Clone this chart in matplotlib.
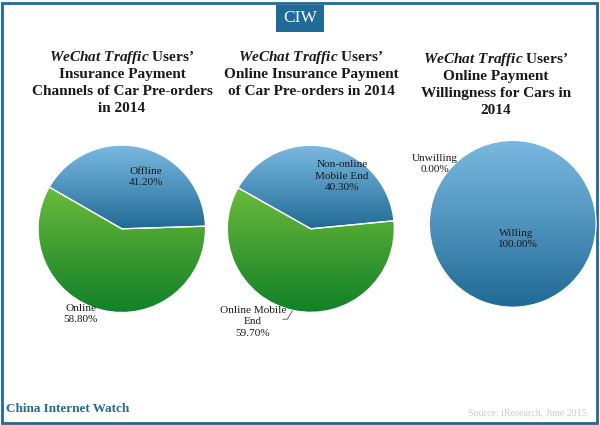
import matplotlib
matplotlib.use('Agg')
import matplotlib.pyplot as plt
from matplotlib.colors import LinearSegmentedColormap
from matplotlib.patches import Rectangle
import numpy as np

W, H = 600, 425

plt.rcParams['font.family'] = ['Liberation Serif', 'DejaVu Serif']
plt.rcParams['mathtext.fontset'] = 'custom'
plt.rcParams['mathtext.it'] = 'Liberation Serif:italic:bold'
plt.rcParams['mathtext.rm'] = 'Liberation Serif:bold'

BLUE = LinearSegmentedColormap.from_list('b', ['#1f6a95', '#4f93bd', '#7ab9e0'])
GREEN = LinearSegmentedColormap.from_list('g', ['#11822a', '#3f9c30', '#6abd3c'])
FRAME = '#1f6a97'
HEAD = r"$\mathit{WeChat\ Traffic}$ Users’"

panels = [
    dict(title=[HEAD, "Insurance Payment", "Channels of Car Pre-orders", "in 2014"],
         title_xy=(122, 57.5), center=(121.8, 228.8), radius=83.7, start=1.8,
         values=[41.2, 58.8], cmaps=[BLUE, GREEN],
         labels=[("Offline\n41.20%", 146, 177), ("Online\n58.80%", 81, 314)]),
    dict(title=[HEAD, "Online Insurance Payment", "of Car Pre-orders in 2014"],
         title_xy=(311, 57.5), center=(310.8, 228.8), radius=83.5, start=5.5,
         values=[40.3, 59.7], cmaps=[BLUE, GREEN],
         labels=[("Non-online\nMobile End\n40.30%", 342, 176),
                 ("Online Mobile\nEnd\n59.70%", 253, 322)]),
    dict(title=[HEAD, "Online Payment", "Willingness for Cars in", "2014"],
         title_xy=(496, 59.5), center=(512.7, 223.8), radius=83.4, start=90,
         values=[100.0, 0.0], cmaps=[BLUE, BLUE],
         labels=[("Willing\n100.00%", 516.5, 239), ("Unwilling\n0.00%", 435, 164)]),
]


def draw_pie(fig, panel):
    cx, cy = panel['center']
    r = panel['radius']
    ax = fig.add_axes([(cx - r) / W, 1 - (cy + r) / H, 2 * r / W, 2 * r / H])
    wedges, _ = ax.pie(panel['values'], startangle=panel['start'], radius=1,
                       wedgeprops=dict(edgecolor='white', linewidth=0.9))
    for wedge, cmap, value in zip(wedges, panel['cmaps'], panel['values']):
        if value == 0:
            wedge.set_visible(False)
            continue
        # fill runs from the top to the bottom of each slice
        box = wedge.get_path().get_extents()
        grad = np.linspace(1, 0, 256).reshape(-1, 1)
        im = ax.imshow(grad, cmap=cmap, aspect='auto', zorder=1,
                       extent=(-1, 1, box.y0, box.y1))
        im.set_clip_path(wedge)
        wedge.set_facecolor('none')
        wedge.set_zorder(2)
    ax.set_xlim(-1, 1)
    ax.set_ylim(-1, 1)
    ax.axis('off')


fig = plt.figure(figsize=(W / 100, H / 100), dpi=100, facecolor='#fafafa')

# page background and frame sit under the pies
bg = fig.add_axes([0, 0, 1, 1], zorder=0)
bg.set_xlim(0, W)
bg.set_ylim(H, 0)
bg.axis('off')
bg.add_patch(Rectangle((2, 3), 595, 420, facecolor='white', edgecolor=FRAME, linewidth=2))
bg.add_patch(Rectangle((276, 5), 48, 27, facecolor=FRAME, edgecolor='none'))
bg.text(300, 18, 'CIW', color='white', fontsize=12.5, ha='center', va='center')

for panel in panels:
    draw_pie(fig, panel)

top = fig.add_axes([0, 0, 1, 1], zorder=5)
top.set_xlim(0, W)
top.set_ylim(H, 0)
top.axis('off')
top.patch.set_alpha(0)

for panel in panels:
    x, y = panel['title_xy']
    # one text per title line, the mathtext line would otherwise space unevenly
    for i, line in enumerate(panel['title']):
        top.text(x, y + i * 17, line, fontsize=11, fontweight='bold', color='#1a1a1a',
                 ha='center', va='center')
    for text, lx, ly in panel['labels']:
        top.text(lx, ly, text, fontsize=8.1, color='#1a1a1a', ha='center', va='center',
                 linespacing=1.42)

# leader line of the Online Mobile End label
top.plot([283, 287.3, 292.3], [319.3, 319.3, 311], color='#666666', linewidth=0.7)

top.text(6, 408.5, 'China Internet Watch', color=FRAME, fontsize=9.45, fontweight='bold',
         ha='left', va='center')
top.text(587, 413, 'Source: iResearch, June 2015', color='#cccccc', fontsize=7.2,
         ha='right', va='center')

fig.savefig('out.png', dpi=100, facecolor=fig.get_facecolor())
